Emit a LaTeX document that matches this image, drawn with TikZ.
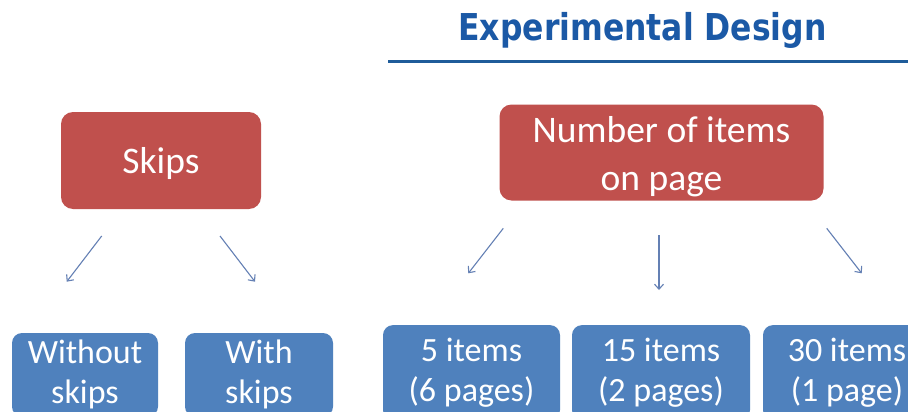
\documentclass[tikz,border=0pt]{standalone}
\usepackage{fontspec}
\setmainfont{Carlito}
\newfontfamily\titlefont{DejaVu Sans}
\usetikzlibrary{arrows.meta}
\definecolor{boxred}{HTML}{C0504D}
\definecolor{boxblue}{HTML}{4F81BD}
\definecolor{titleblue}{HTML}{1B59A6}
\definecolor{rulecol}{HTML}{1F5C9A}
\definecolor{arrowcol}{HTML}{6480B4}
\tikzset{
  redbox/.style={fill=boxred, rounded corners=12pt, text=white, inner sep=0pt,
    align=center, font=\fontsize{37.5}{48}\selectfont},
  bluebox/.style={fill=boxblue, rounded corners=10pt, text=white, inner sep=0pt,
    align=center, font=\fontsize{34}{40}\selectfont},
  conn/.style={draw=arrowcol, line width=1.1pt,
    -{Straight Barb[length=5pt,width=9pt]}},
  titlerule/.style={draw=rulecol, line width=3pt}
}
\begin{document}
\begin{tikzpicture}[x=1pt,y=-1pt]
\path[use as bounding box] (0,0) rectangle (908,412);
\clip (0,0) rectangle (908,412);
\fill[white] (0,0) rectangle (908,412);

% title
\node[anchor=base, text=titleblue, inner sep=0pt,
  font=\titlefont\bfseries\fontsize{37}{44}\selectfont] (title) at (642.5,41)
  {\scalebox{0.85}[1]{Experimental Design}};
\coordinate (ruleL) at (388,62);
\coordinate (ruleR) at (910,62);
\draw[titlerule] (ruleL) -- (ruleR);

% top boxes
\node[redbox, minimum width=200pt, minimum height=97pt,
  text height=26pt, text depth=0pt] (skips) at (161,160.5) {Skips};
\node[redbox, minimum width=324pt, minimum height=96pt] (num) at (661.5,152.5)
  {\rule{0pt}{34.5pt}Number of items\\on page};

% bottom boxes
\node[bluebox, minimum width=146pt, minimum height=83.6pt] (without) at (85,374.8) {Without\\skips};
\node[bluebox, minimum width=148pt, minimum height=83.6pt] (with) at (259,374.8) {With\\skips};
\node[bluebox, minimum width=177pt, minimum height=95pt] (five) at (471.5,372.6) {5 items\\(6 pages)};
\node[bluebox, minimum width=178pt, minimum height=95pt] (fifteen) at (661,372.6) {15 items\\(2 pages)};
\node[bluebox, minimum width=168pt, minimum height=95pt] (thirty) at (847,372.6) {30 items\\(1 page)};

% arrows
\coordinate (a1s) at (101.7,236);   \coordinate (a1e) at (66.7,281.7);
\coordinate (a2s) at (220,236);     \coordinate (a2e) at (255,281.7);
\coordinate (a3s) at (503.3,228.3); \coordinate (a3e) at (468.3,273.3);
\coordinate (a4s) at (659,235);     \coordinate (a4e) at (659,290);
\coordinate (a5s) at (826.7,228.3); \coordinate (a5e) at (861.7,273.3);
\draw[conn] (a1s) -- (a1e);
\draw[conn] (a2s) -- (a2e);
\draw[conn] (a3s) -- (a3e);
\draw[conn] (a4s) -- (a4e);
\draw[conn] (a5s) -- (a5e);
\end{tikzpicture}
\end{document}
